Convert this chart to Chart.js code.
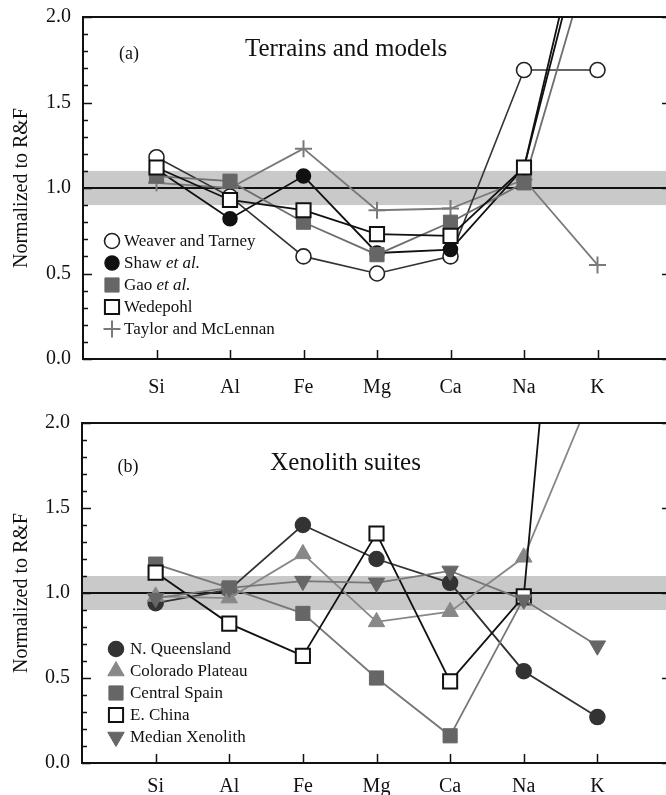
<!DOCTYPE html>
<html>
<head>
<meta charset="utf-8">
<script src="https://cdn.jsdelivr.net/npm/chart.js@4.4.0/dist/chart.umd.min.js"></script>
<style>
  html, body { margin: 0; padding: 0; background: #fff; overflow: hidden; }
  #wrap { width: 666px; height: 795px; overflow: hidden; }
  canvas { display: block; }
</style>
</head>
<body>
<div id="wrap">
  <canvas id="chart-a" width="672" height="400"></canvas>
  <canvas id="chart-b" width="672" height="395"></canvas>
</div>
<script>
// Element order along the x axis (positions 1..7)
const elements = ['Si', 'Al', 'Fe', 'Mg', 'Ca', 'Na', 'K'];

// Reference band and line (R&F = 1)
const refBand = [0.9, 1.1];
const refLine = 1.0;

// --- (a) Terrains and models ---
const weaverTarney   = [1.18, 0.95, 0.60, 0.50, 0.60, 1.69, 1.69];
const shawEtAl       = [1.11, 0.82, 1.07, 0.62, 0.64, 1.12, 2.95];
const gaoEtAl        = [1.07, 1.04, 0.80, 0.61, 0.80, 1.03, 2.50];
const wedepohl       = [1.12, 0.93, 0.87, 0.73, 0.72, 1.12, 2.80];
const taylorMcLennan = [1.03, 1.00, 1.23, 0.87, 0.88, 1.05, 0.55];

// --- (b) Xenolith suites ---
const nQueensland     = [0.94, 1.02, 1.40, 1.20, 1.06, 0.54, 0.27];
const coloradoPlateau = [0.98, 0.97, 1.23, 0.83, 0.89, 1.21, 2.25];
const centralSpain    = [1.17, 1.03, 0.88, 0.50, 0.16, 0.97, null];
const eChina          = [1.12, 0.82, 0.63, 1.35, 0.48, 0.98, 5.70];
const medianXenolith  = [0.97, 1.03, 1.07, 1.06, 1.13, 0.96, 0.69];

const SERIF = '"Liberation Serif", "Times New Roman", serif';

// turn a value list into {x, y} points, dropping missing values
function toPoints(values) {
    return values
        .map((v, i) => ({ x: i + 1, y: v }))
        .filter(p => p.y !== null);
}

function series(label, values, style) {
    return Object.assign({
        label,
        data: toPoints(values),
        borderWidth: 1.6,
        pointBorderWidth: 1.5,
        pointRotation: 0,
        fill: false,
        tension: 0
    }, style);
}

// band, reference line, frame, inward ticks, titles and the in-plot legend
const panelPlugin = {
    id: 'panel',
    beforeDatasetsDraw(chart) {
        const { ctx, chartArea: a, scales: { y } } = chart;
        ctx.save();
        const yHi = y.getPixelForValue(refBand[1]);
        const yLo = y.getPixelForValue(refBand[0]);
        ctx.fillStyle = '#c9c9c9';
        ctx.fillRect(a.left, yHi, a.right - a.left, yLo - yHi);
        const yRef = Math.round(y.getPixelForValue(refLine));
        ctx.strokeStyle = '#111';
        ctx.lineWidth = 2;
        ctx.beginPath();
        ctx.moveTo(a.left, yRef);
        ctx.lineTo(a.right, yRef);
        ctx.stroke();
        ctx.restore();
    },
    afterDatasetsDraw(chart, args, opts) {
        const { ctx, chartArea: a, scales: { x, y } } = chart;
        ctx.save();
        ctx.strokeStyle = '#111';
        ctx.lineWidth = 2;
        ctx.strokeRect(a.left, a.top, a.right - a.left, a.bottom - a.top);

        // left and right tick marks, every 0.1
        ctx.lineWidth = 1.5;
        ctx.beginPath();
        for (let k = 0; k <= 20; k++) {
            const py = Math.round(y.getPixelForValue(k / 10)) + 0.5;
            const major = k % 5 === 0;
            ctx.moveTo(a.left, py);
            ctx.lineTo(a.left + (major ? 9 : 5), py);
            if (major || opts.rightMinor) {
                ctx.moveTo(a.right, py);
                ctx.lineTo(a.right - (major ? 9 : 5), py);
            }
        }
        // bottom ticks at each element
        elements.forEach((el, i) => {
            const px = Math.round(x.getPixelForValue(i + 1)) + 0.5;
            ctx.moveTo(px, a.bottom);
            ctx.lineTo(px, a.bottom - 9);
        });
        ctx.stroke();

        // panel tag and title
        ctx.fillStyle = '#111';
        ctx.textBaseline = 'middle';
        ctx.textAlign = 'center';
        ctx.font = `18px ${SERIF}`;
        ctx.fillText(opts.tag, a.left + 46, a.top + opts.tagY);
        ctx.font = `25px ${SERIF}`;
        ctx.fillText(opts.title, x.getPixelForValue(3.58), a.top + opts.titleY);

        // legend rows
        const lg = opts.legend;
        ctx.textAlign = 'left';
        chart.data.datasets.forEach((ds, i) => {
            const cy = a.top + lg.top + i * lg.step;
            const mx = a.left + lg.markerX;
            ctx.fillStyle = ds.pointBackgroundColor;
            ctx.strokeStyle = ds.pointBorderColor;
            ctx.lineWidth = ds.pointBorderWidth;
            Chart.helpers.drawPoint(ctx, {
                pointStyle: ds.pointStyle,
                radius: ds.pointRadius,
                rotation: ds.pointRotation,
                borderWidth: ds.pointBorderWidth
            }, mx, cy);
            ctx.fillStyle = '#111';
            let tx = a.left + lg.textX;
            const parts = ds.label.split(/(et al\.)/);
            parts.forEach(part => {
                if (!part) return;
                ctx.font = (part === 'et al.' ? 'italic ' : '') + `17px ${SERIF}`;
                ctx.fillText(part, tx, cy + 1);
                tx += ctx.measureText(part).width;
            });
        });
        ctx.restore();
    }
};

function makeOptions(cfg) {
    return {
        responsive: false,
        animation: false,
        devicePixelRatio: 1,
        layout: { autoPadding: false, padding: { top: cfg.top, right: 1, left: 0, bottom: 0 } },
        plugins: {
            legend: { display: false },
            tooltip: { enabled: false },
            panel: cfg.panel
        },
        scales: {
            x: {
                type: 'linear',
                min: 0,
                max: 8,
                grid: { display: false, drawTicks: false },
                border: { display: false },
                ticks: {
                    stepSize: 1,
                    autoSkip: false,
                    maxRotation: 0,
                    padding: cfg.xPad,
                    color: '#111',
                    font: { family: SERIF, size: 20 },
                    callback: v => elements[v - 1] || ''
                },
                // fixed axis height, and no extra side padding from the label gap
                afterFit: s => {
                    s.height = cfg.xHeight;
                    s.paddingLeft = 0;
                    s.paddingRight = 0;
                }
            },
            y: {
                min: 0,
                max: 2,
                grid: { display: false, drawTicks: false },
                border: { display: false },
                ticks: {
                    stepSize: 0.5,
                    padding: 12,
                    color: '#111',
                    font: { family: SERIF, size: 20 },
                    callback: v => v.toFixed(1)
                },
                title: {
                    display: true,
                    text: 'Normalized to R&F',
                    color: '#111',
                    font: { family: SERIF, size: 20 },
                    padding: { top: 10, bottom: 0 }
                },
                afterFit: s => {
                    s.width = cfg.yWidth;
                    s.paddingTop = 0;
                    s.paddingBottom = 0;
                }
            }
        }
    };
}

new Chart(document.getElementById('chart-a'), {
    type: 'line',
    data: {
        datasets: [
            series('Weaver and Tarney', weaverTarney, {
                borderColor: '#333', pointStyle: 'circle', pointRadius: 7.5,
                pointBackgroundColor: '#fff', pointBorderColor: '#222', pointBorderWidth: 1.6, order: 3
            }),
            series('Shaw et al.', shawEtAl, {
                borderColor: '#111', borderWidth: 1.8, pointStyle: 'circle', pointRadius: 7,
                pointBackgroundColor: '#111', pointBorderColor: '#111', order: 2
            }),
            series('Gao et al.', gaoEtAl, {
                borderColor: '#6e6e6e', borderWidth: 1.8, pointStyle: 'rect', pointRadius: 10,
                pointBackgroundColor: '#666', pointBorderColor: '#666', pointBorderWidth: 1, order: 1
            }),
            series('Wedepohl', wedepohl, {
                borderColor: '#111', borderWidth: 1.8, pointStyle: 'rect', pointRadius: 10,
                pointBackgroundColor: '#fff', pointBorderColor: '#111', pointBorderWidth: 2, order: 0
            }),
            series('Taylor and McLennan', taylorMcLennan, {
                borderColor: '#7a7a7a', borderWidth: 1.8, pointStyle: 'cross', pointRadius: 8.5,
                pointBackgroundColor: '#7a7a7a', pointBorderColor: '#7a7a7a', pointBorderWidth: 2, order: 4
            })
        ]
    },
    options: makeOptions({
        top: 17, xHeight: 41, yWidth: 83, xPad: 17,
        panel: {
            tag: '(a)', title: 'Terrains and models', rightMinor: false, tagY: 37, titleY: 32,
            legend: { top: 224, step: 22, markerX: 29, textX: 41 }
        }
    }),
    plugins: [panelPlugin]
});

new Chart(document.getElementById('chart-b'), {
    type: 'line',
    data: {
        datasets: [
            series('N. Queensland', nQueensland, {
                borderColor: '#333', borderWidth: 1.8, pointStyle: 'circle', pointRadius: 7.5,
                pointBackgroundColor: '#333', pointBorderColor: '#333', order: 4
            }),
            series('Colorado Plateau', coloradoPlateau, {
                borderColor: '#888', borderWidth: 1.8, pointStyle: 'triangle', pointRadius: 9.5,
                pointBackgroundColor: '#888', pointBorderColor: '#888', pointBorderWidth: 1, order: 2
            }),
            series('Central Spain', centralSpain, {
                borderColor: '#777', borderWidth: 1.8, pointStyle: 'rect', pointRadius: 10,
                pointBackgroundColor: '#666', pointBorderColor: '#666', pointBorderWidth: 1, order: 3
            }),
            series('E. China', eChina, {
                borderColor: '#111', borderWidth: 1.8, pointStyle: 'rect', pointRadius: 10,
                pointBackgroundColor: '#fff', pointBorderColor: '#111', pointBorderWidth: 2, order: 1
            }),
            series('Median Xenolith', medianXenolith, {
                borderColor: '#777', borderWidth: 1.8, pointStyle: 'triangle', pointRadius: 9.5,
                pointRotation: 180,
                pointBackgroundColor: '#666', pointBorderColor: '#666', pointBorderWidth: 1, order: 0
            })
        ]
    },
    options: makeOptions({
        top: 23, xHeight: 32, yWidth: 82, xPad: 12,
        panel: {
            tag: '(b)', title: 'Xenolith suites', rightMinor: true, tagY: 44, titleY: 40,
            legend: { top: 226, step: 22, markerX: 34, textX: 48 }
        }
    }),
    plugins: [panelPlugin]
});
</script>
</body>
</html>
